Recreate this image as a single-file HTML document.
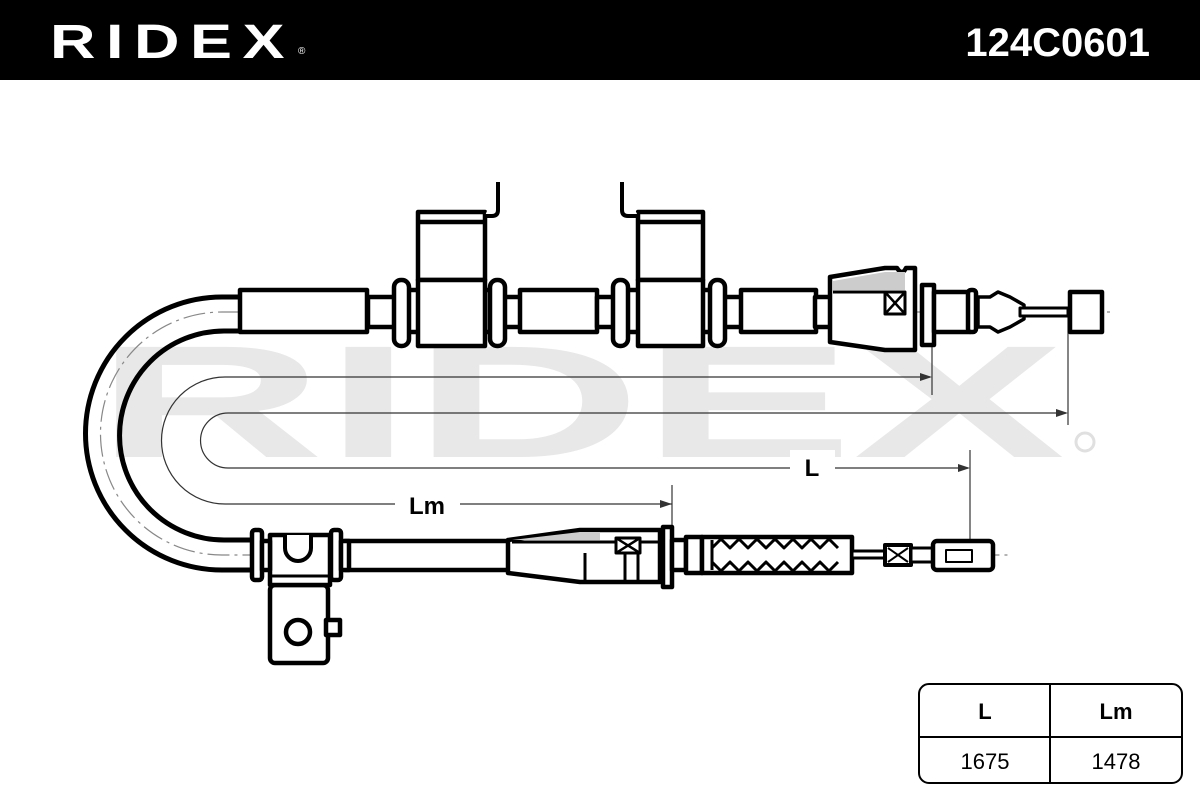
<!DOCTYPE html>
<html><head><meta charset="utf-8"><style>
html,body{margin:0;padding:0;background:#fff;width:1200px;height:800px;overflow:hidden}
svg{display:block}
</style></head><body>
<svg width="1200" height="800" viewBox="0 0 1200 800" xmlns="http://www.w3.org/2000/svg" font-family="Liberation Sans, sans-serif">
<rect x="0" y="0" width="1200" height="80" fill="#000"/>
<text x="50" y="58" fill="#fff" font-size="48" font-weight="bold" letter-spacing="8" textLength="245" lengthAdjust="spacingAndGlyphs">RIDEX</text>
<text x="298" y="54" fill="#fff" font-size="10">®</text>
<text x="1150" y="56" fill="#fff" font-size="40" font-weight="bold" text-anchor="end">124C0601</text>

<g fill="#e8e8e8">
<text x="95" y="457" font-size="160" font-weight="bold" textLength="970" lengthAdjust="spacingAndGlyphs">RIDEX</text>
</g>
<circle cx="1085" cy="442" r="9" fill="none" stroke="#e0e0e0" stroke-width="3"/>

<g fill="none" stroke="#333" stroke-width="1.2">
<path d="M930 377 H225 A63.5 63.5 0 0 0 225 504 H672"/>
<path d="M1066 413 H228 A27.5 27.5 0 0 0 228 468 H968"/>
<line x1="932" y1="340" x2="932" y2="395"/>
<line x1="1068" y1="312" x2="1068" y2="425"/>
<line x1="672" y1="485" x2="672" y2="585"/>
<line x1="970" y1="450" x2="970" y2="556"/>
</g>
<rect x="790" y="450" width="45" height="30" fill="#fff"/>
<rect x="395" y="488" width="65" height="32" fill="#fff"/>
<g fill="#333">
<polygon points="932,377 920,373 920,381"/>
<polygon points="1068,413 1056,409 1056,417"/>
<polygon points="672,504 660,500 660,508"/>
<polygon points="970,468 958,464 958,472"/>
</g>
<text x="812" y="476" font-size="24" font-weight="bold" text-anchor="middle">L</text>
<text x="427" y="514" font-size="24" font-weight="bold" text-anchor="middle">Lm</text>

<g fill="none" stroke="#000" stroke-width="5">
<path d="M245 297 H222 A136.5 136.5 0 0 0 222 570 H255"/>
<path d="M245 331 H224 A104.5 104.5 0 0 0 224 540 H255"/>
</g>
<g fill="none" stroke="#888" stroke-width="1.2" stroke-dasharray="22,5,3,5">
<path d="M240 312 H222 A121.5 121.5 0 0 0 222 555 H1010"/>
<line x1="240" y1="312" x2="1115" y2="312"/>
</g>

<g fill="#fff" stroke="#000" stroke-width="4.5" stroke-linejoin="round">
<rect x="368" y="297" width="30" height="30"/>
<rect x="240" y="290" width="127" height="42"/>
<rect x="500" y="297" width="25" height="30"/>
<rect x="520" y="290" width="77" height="42"/>
<rect x="597" y="297" width="20" height="30"/>
<rect x="720" y="297" width="25" height="30"/>
<rect x="741" y="290" width="75" height="42"/>
<rect x="815" y="297" width="20" height="30"/>
<rect x="405" y="290" width="15" height="42"/>
<rect x="485" y="290" width="15" height="42"/>
<rect x="418" y="212" width="67" height="68"/>
<line x1="418" y1="222" x2="485" y2="222"/>
<rect x="418" y="280" width="67" height="66"/>
<path d="M485 216 H492 Q498 216 498 210 V182" stroke-width="4"/>
<rect x="394" y="280" width="15" height="66" rx="7"/>
<rect x="490" y="280" width="15" height="66" rx="7"/>
<rect x="625" y="290" width="15" height="42"/>
<rect x="702" y="290" width="15" height="42"/>
<rect x="638" y="212" width="65" height="68"/>
<line x1="638" y1="222" x2="703" y2="222"/>
<rect x="638" y="280" width="65" height="66"/>
<path d="M638 216 H628 Q622 216 622 210 V182" stroke-width="4"/>
<rect x="613" y="280" width="15" height="66" rx="7"/>
<rect x="710" y="280" width="15" height="66" rx="7"/>
<path d="M830 277 L885 268 L897 268 Q902 276 906 268 L915 268 V350 L885 350 L830 342 Z"/>
<path d="M833 290 L833 281 L885 272 L905 272 L905 290 Z" fill="#ccc" stroke="none"/>
<line x1="833" y1="292" x2="905" y2="292" stroke-width="3"/>
<rect x="885" y="292" width="20" height="22" stroke-width="3"/>
<path d="M885 292 L905 314 M905 292 L885 314" stroke-width="2.5"/>
<rect x="922" y="285" width="12" height="60"/>
<rect x="934" y="292" width="36" height="40"/>
<rect x="968" y="290" width="8" height="42" rx="3"/>
<path d="M978 297 L990 297 L998 292 L1010 297 L1024 305 L1024 319 L1010 327 L998 332 L990 327 L978 327 Z" stroke-width="3.5"/>
<rect x="1020" y="308" width="48" height="8" stroke-width="3"/>
<rect x="1070" y="292" width="32" height="40"/>

<rect x="345" y="541" width="165" height="29"/>
<rect x="270" y="585" width="58" height="78" rx="5"/>
<rect x="326" y="620" width="14" height="15"/>
<circle cx="298" cy="632" r="12"/>
<rect x="270" y="535" width="60" height="50"/>
<path d="M285 535 V548 A13 13 0 0 0 311 548 V535" stroke-width="4"/>
<line x1="272" y1="576" x2="328" y2="576" stroke-width="3"/>
<rect x="252" y="530" width="10" height="50" rx="3"/>
<rect x="331" y="530" width="10" height="50" rx="3"/>
<rect x="262" y="541" width="8" height="29"/>
<rect x="341" y="541" width="8" height="29"/>
<path d="M508 540 L580 530 L660 530 V582 L580 582 L508 573 Z"/>
<path d="M512 540 L580 532 L600 532 L600 540 Z" fill="#ccc" stroke="none"/>
<line x1="512" y1="542" x2="660" y2="542" stroke-width="3"/>
<rect x="616" y="538" width="24" height="15" stroke-width="3"/>
<path d="M616 538 L640 553 M640 538 L616 553" stroke-width="2.5"/>
<line x1="585" y1="553" x2="585" y2="582" stroke-width="3"/>
<line x1="625" y1="553" x2="625" y2="582" stroke-width="3"/>
<line x1="638" y1="553" x2="638" y2="582" stroke-width="3"/>
<rect x="663" y="527" width="9" height="60"/>
<rect x="672" y="540" width="14" height="30"/>
<rect x="686" y="537" width="16" height="36"/>
<rect x="702" y="537" width="150" height="36"/>
<path d="M712 548 L721 539 L730 548 L739 539 L748 548 L757 539 L766 548 L775 539 L784 548 L793 539 L802 548 L811 539 L820 548 L829 539 L838 548 M712 562 L721 571 L730 562 L739 571 L748 562 L757 571 L766 562 L775 571 L784 562 L793 571 L802 562 L811 571 L820 562 L829 571 L838 562" fill="none" stroke-width="3"/>
<line x1="712" y1="540" x2="712" y2="570" stroke-width="3"/>
<rect x="852" y="551" width="33" height="7" stroke-width="3"/>
<rect x="885" y="545" width="26" height="20" stroke-width="4"/>
<path d="M888 548 L908 562 M908 548 L888 562" stroke-width="2"/>
<rect x="911" y="548" width="22" height="14" stroke-width="3"/>
<rect x="933" y="541" width="60" height="29" rx="4"/>
<rect x="946" y="550" width="26" height="12" stroke-width="2"/>
</g>

<rect x="919" y="684" width="263" height="99" rx="10" fill="#fff" stroke="#000" stroke-width="2"/>
<line x1="919" y1="737" x2="1182" y2="737" stroke="#000" stroke-width="2"/>
<line x1="1050" y1="684" x2="1050" y2="783" stroke="#000" stroke-width="2"/>
<text x="985" y="719" font-size="22" font-weight="bold" text-anchor="middle">L</text>
<text x="1116" y="719" font-size="22" font-weight="bold" text-anchor="middle">Lm</text>
<text x="985" y="769" font-size="22" text-anchor="middle">1675</text>
<text x="1116" y="769" font-size="22" text-anchor="middle">1478</text>
</svg>
</body></html>
